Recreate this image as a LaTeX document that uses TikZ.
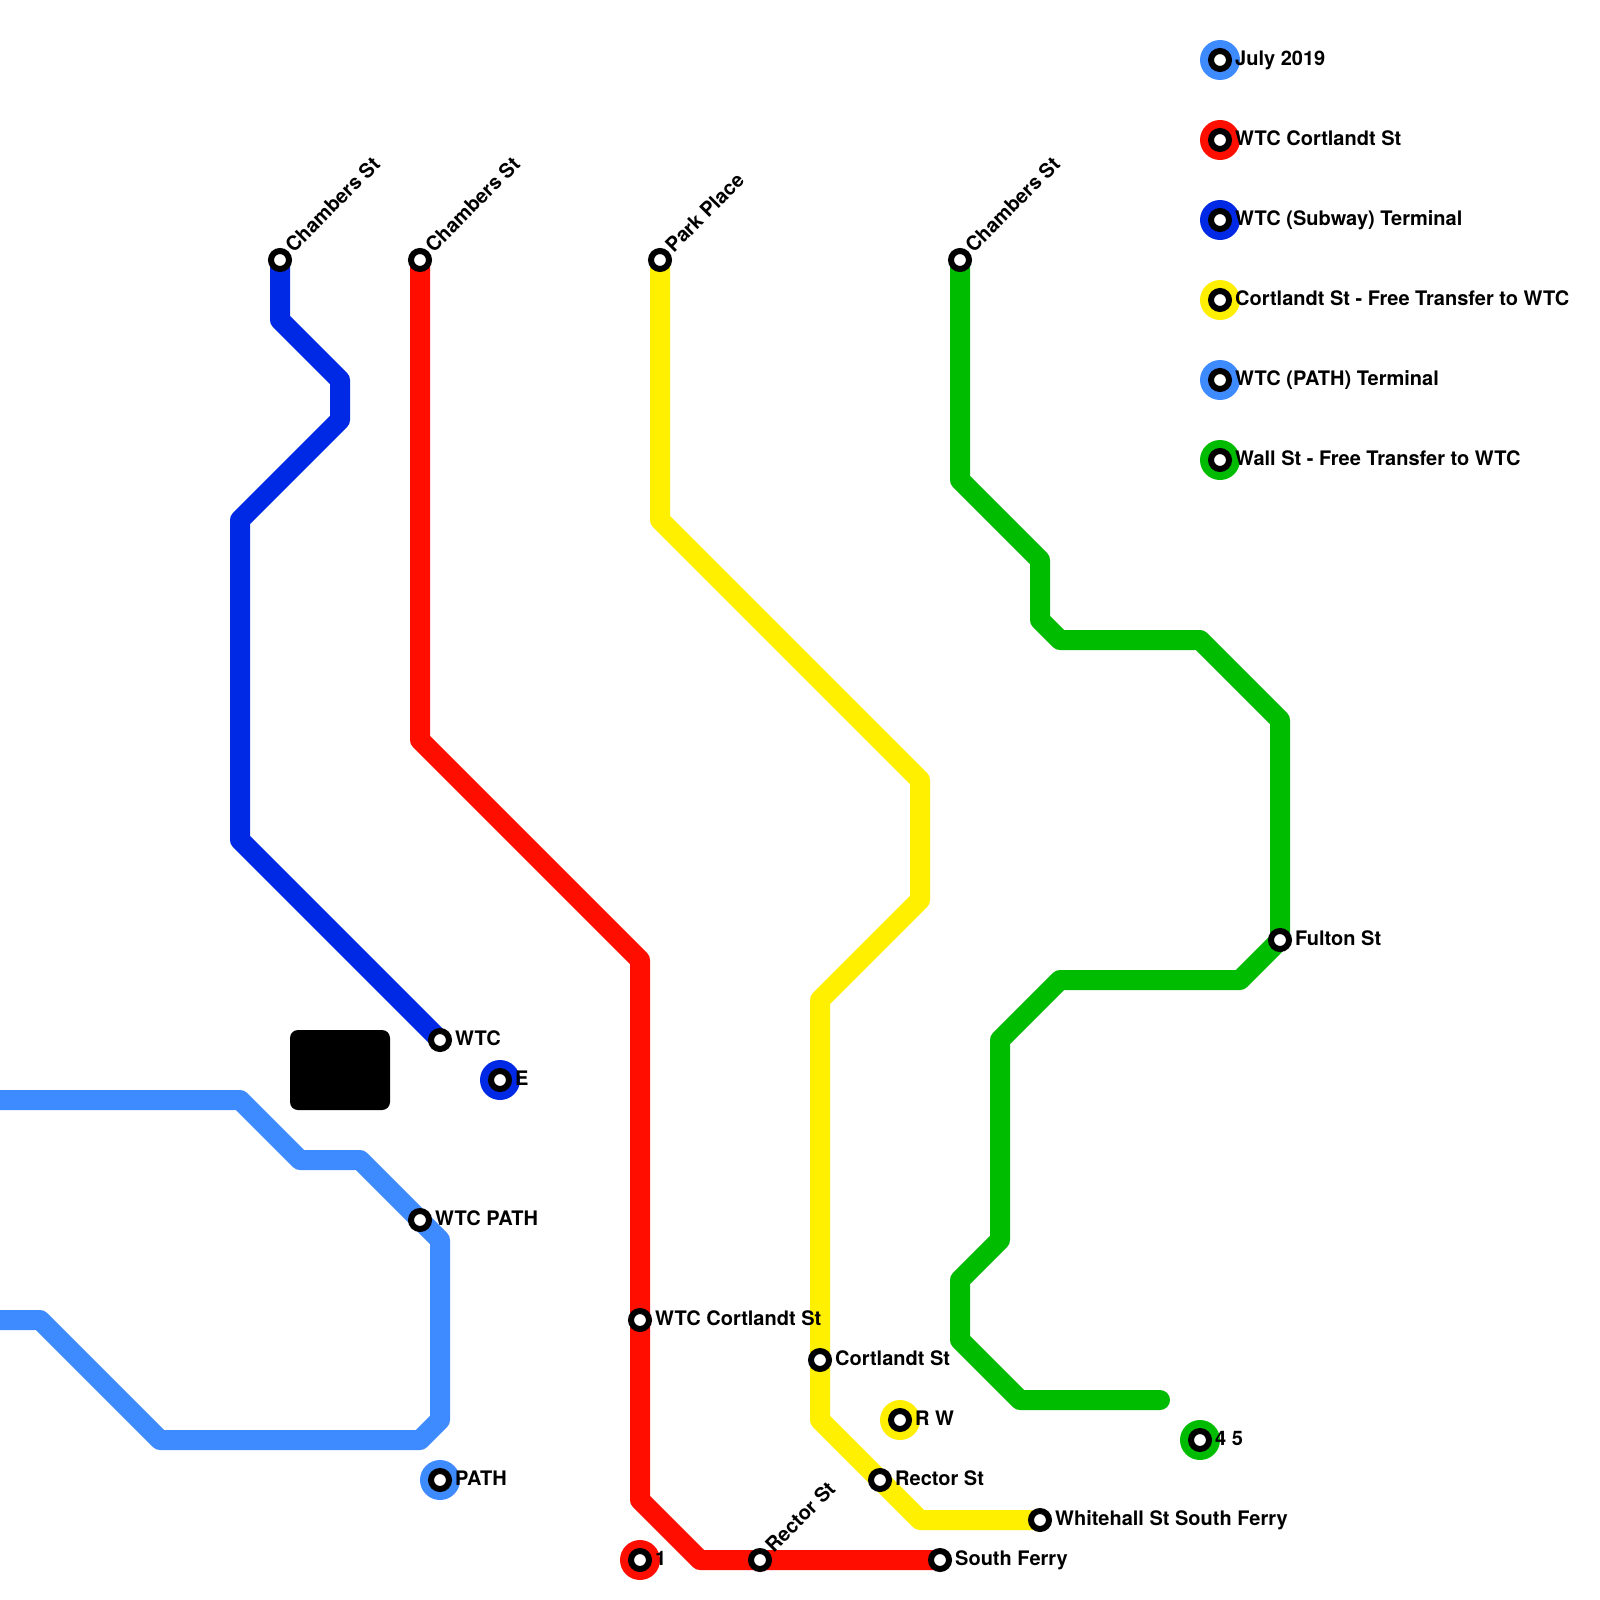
\documentclass[tikz,border=0pt]{standalone}
\usepackage{fontspec}
\setmainfont{TeX Gyre Heros}
\definecolor{pathblue}{HTML}{3E8AFF}
\definecolor{subblue}{HTML}{0029E6}
\definecolor{redline}{HTML}{FF0E00}
\definecolor{yellowline}{HTML}{FFF000}
\definecolor{greenline}{HTML}{00BC00}
\tikzset{
  metro/.style={line width=20pt,line join=round,line cap=round},
  stn/.style={circle,draw=black,fill=white,line width=6pt,minimum size=18pt,inner sep=0pt},
  hub/.style={circle,fill=#1,minimum size=40pt,inner sep=0pt},
  lab/.style={anchor=base west,inner sep=0pt,font=\fontsize{20}{24}\selectfont\bfseries,xshift=15pt,yshift=-5.2pt},
  dlab/.style={anchor=base west,inner sep=0pt,font=\fontsize{20}{24}\selectfont\bfseries,xshift=13.8pt,yshift=6.6pt,rotate=45},
}
\begin{document}
\begin{tikzpicture}[x=1pt,y=-1pt]
\path[fill=white] (0,0) rectangle (1600,1600);
\useasboundingbox (0,0) rectangle (1600,1600);
% station positions
\coordinate (pSubN) at (280,260);
\coordinate (pRedN) at (420,260);
\coordinate (pYelN) at (660,260);
\coordinate (pGrnN) at (960,260);
\coordinate (pWTC) at (440,1040);
\coordinate (pPath) at (420,1220);
\coordinate (pCort) at (640,1320);
\coordinate (pCortY) at (820,1360);
\coordinate (pRecY) at (880,1480);
\coordinate (pRecR) at (760,1560);
\coordinate (pSF) at (940,1560);
\coordinate (pWH) at (1040,1520);
\coordinate (pFul) at (1280,940);
% free ends and bends
\coordinate (a1) at (280,320);
\coordinate (a2) at (340,380);
\coordinate (a3) at (340,420);
\coordinate (a4) at (240,520);
\coordinate (a5) at (240,840);
\coordinate (b1) at (420,740);
\coordinate (b2) at (640,960);
\coordinate (b3) at (640,1500);
\coordinate (b4) at (700,1560);
\coordinate (c1) at (660,520);
\coordinate (c2) at (920,780);
\coordinate (c3) at (920,900);
\coordinate (c4) at (820,1000);
\coordinate (c5) at (820,1420);
\coordinate (c6) at (920,1520);
\coordinate (d1) at (960,480);
\coordinate (d2) at (1040,560);
\coordinate (d3) at (1040,620);
\coordinate (d4) at (1060,640);
\coordinate (d5) at (1200,640);
\coordinate (d6) at (1280,720);
\coordinate (d7) at (1240,980);
\coordinate (d8) at (1060,980);
\coordinate (d9) at (1000,1040);
\coordinate (d10) at (1000,1240);
\coordinate (d11) at (960,1280);
\coordinate (d12) at (960,1340);
\coordinate (d13) at (1020,1400);
\coordinate (d14) at (1160,1400);
\coordinate (e0) at (-12,1100);
\coordinate (e1) at (240,1100);
\coordinate (e2) at (300,1160);
\coordinate (e3) at (360,1160);
\coordinate (e4) at (440,1240);
\coordinate (e5) at (440,1420);
\coordinate (e6) at (420,1440);
\coordinate (e7) at (160,1440);
\coordinate (e8) at (40,1320);
\coordinate (e9) at (-12,1320);
% lines
\draw[metro,pathblue] (e0)--(e1)--(e2)--(e3)--(e4)--(e5)--(e6)--(e7)--(e8)--(e9);
\draw[metro,subblue] (pSubN)--(a1)--(a2)--(a3)--(a4)--(a5)--(pWTC);
\draw[metro,redline] (pRedN)--(b1)--(b2)--(b3)--(b4)--(pSF);
\draw[metro,yellowline] (pYelN)--(c1)--(c2)--(c3)--(c4)--(c5)--(c6)--(pWH);
\draw[metro,greenline] (pGrnN)--(d1)--(d2)--(d3)--(d4)--(d5)--(d6)--(pFul)--(d7)--(d8)--(d9)--(d10)--(d11)--(d12)--(d13)--(d14);
% black block
\node[fill=black,rounded corners=8pt,minimum width=100pt,minimum height=80pt,inner sep=0pt] (block) at (340,1070) {};
% hubs
\node[hub=pathblue] (hL1) at (1220,60) {};
\node[hub=redline] (hL2) at (1220,140) {};
\node[hub=subblue] (hL3) at (1220,220) {};
\node[hub=yellowline] (hL4) at (1220,300) {};
\node[hub=pathblue] (hL5) at (1220,380) {};
\node[hub=greenline] (hL6) at (1220,460) {};
\node[hub=subblue] (hE) at (500,1080) {};
\node[hub=pathblue] (hP) at (440,1480) {};
\node[hub=redline] (h1) at (640,1560) {};
\node[hub=yellowline] (hR) at (900,1420) {};
\node[hub=greenline] (h4) at (1200,1440) {};
% station rings
\foreach \n in {hL1,hL2,hL3,hL4,hL5,hL6,hE,hP,h1,hR,h4,pSubN,pRedN,pYelN,pGrnN,pWTC,pPath,pCort,pCortY,pRecY,pRecR,pSF,pWH,pFul}
  \node[stn] (s\n) at (\n) {};
% labels
\node[lab] (tL1) at (hL1) {July 2019};
\node[lab] (tL2) at (hL2) {WTC Cortlandt St};
\node[lab] (tL3) at (hL3) {WTC (Subway) Terminal};
\node[lab] (tL4) at (hL4) {Cortlandt St - Free Transfer to WTC};
\node[lab] (tL5) at (hL5) {WTC (PATH) Terminal};
\node[lab] (tL6) at (hL6) {Wall St - Free Transfer to WTC};
\node[lab] (tE) at (hE) {E};
\node[lab] (tP) at (hP) {PATH};
\node[lab] (t1) at (h1) {1};
\node[lab] (tR) at (hR) {R W};
\node[lab] (t4) at (h4) {4 5};
\node[lab] (tWTC) at (pWTC) {WTC};
\node[lab] (tPath) at (pPath) {WTC PATH};
\node[lab] (tCort) at (pCort) {WTC Cortlandt St};
\node[lab] (tCortY) at (pCortY) {Cortlandt St};
\node[lab] (tRecY) at (pRecY) {Rector St};
\node[lab] (tSF) at (pSF) {South Ferry};
\node[lab] (tWH) at (pWH) {Whitehall St South Ferry};
\node[lab] (tFul) at (pFul) {Fulton St};
\node[dlab] (tSubN) at (pSubN) {Chambers St};
\node[dlab] (tRedN) at (pRedN) {Chambers St};
\node[dlab] (tYelN) at (pYelN) {Park Place};
\node[dlab] (tGrnN) at (pGrnN) {Chambers St};
\node[dlab] (tRecR) at (pRecR) {Rector St};
\end{tikzpicture}
\end{document}
